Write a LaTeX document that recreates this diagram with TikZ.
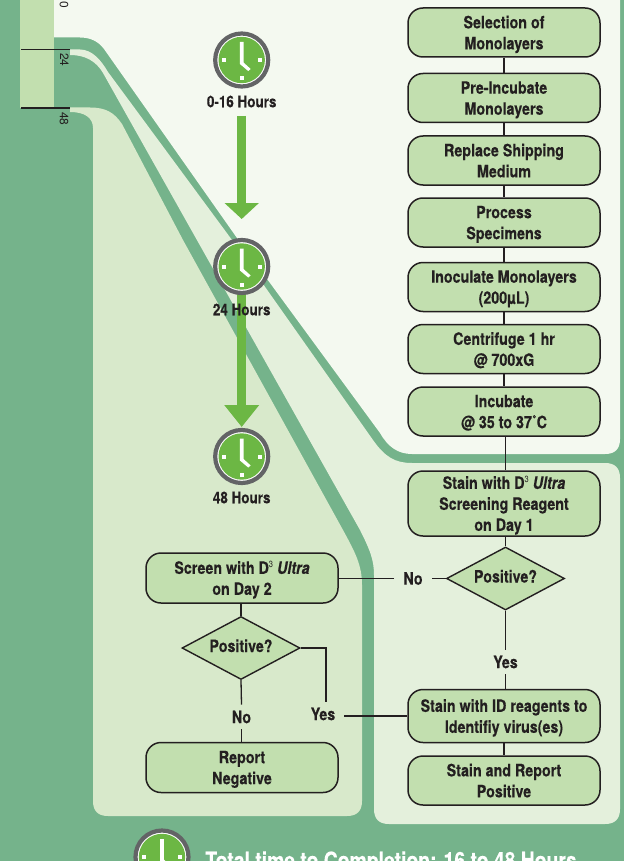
\documentclass[tikz,border=0pt]{standalone}
\usepackage{fontspec}
\setmainfont[FakeStretch=0.84,BoldFeatures={FakeBold=0.25},BoldItalicFeatures={FakeBold=0.25}]{TeX Gyre Heros}
\newfontfamily\tickfont{TeX Gyre Heros}
\usepackage{xcolor}
\usepackage{tikz}
\usetikzlibrary{arrows.meta,shapes.geometric,calc}
\definecolor{bandgreen}{HTML}{75B38B}
\definecolor{paleA}{HTML}{F4F9F0}
\definecolor{paleB}{HTML}{E4F0DC}
\definecolor{paleC}{HTML}{D8E9CB}
\definecolor{boxgreen}{HTML}{C2DFAF}
\definecolor{clockgreen}{HTML}{6CB744}
\definecolor{clockgray}{HTML}{636466}
\definecolor{inkdark}{HTML}{231F20}
\tikzset{
	flowbox/.style={draw=inkdark,fill=boxgreen,line width=1.5pt,rounded corners=15pt,minimum width=192pt,minimum height=49pt,inner sep=0pt,align=center,text depth=0pt,text=inkdark,font=\flowfont},
	flowdiamond/.style={diamond,draw=inkdark,fill=boxgreen,line width=1.4pt,minimum width=118pt,minimum height=63pt,inner sep=0pt,aspect=1.9,text height=12pt,text depth=4pt,text=inkdark,font=\flowfont},
	flowlabel/.style={inner xsep=9pt,inner ysep=6pt,text=inkdark,font=\flowfont},
	flowline/.style={draw=inkdark,line width=1.3pt},
	hourslabel/.style={inner sep=1pt,text=inkdark,font=\hoursfont},
	ticklabel/.style={rotate=-90,inner sep=0pt,text=inkdark,font=\tickfont\fontsize{12}{12}\selectfont},
	tickline/.style={draw=inkdark,line width=1.2pt},
	timearrow/.style={draw=clockgreen,line width=8.5pt,-{Triangle[width=33.5pt,length=#1]}},
}
\newcommand{\flowfont}{\bfseries\fontsize{17}{21}\selectfont}
\newcommand{\hoursfont}{\bfseries\fontsize{16}{16}\selectfont}
\newcommand{\smallthree}{\raisebox{6pt}{\mdseries\fontsize{9}{9}\selectfont 3}}
\newcommand{\plotClock}[1]
{
	\node[circle,draw=clockgray,fill=white,line width=4.2pt,minimum size=53pt,inner sep=0pt] (#1-ring) at (#1) {};
	\fill[clockgreen] (#1) circle (23.2pt);
	\fill[white] ($(#1)+(-1.8,-18)$) -- ($(#1)+(1.8,-18)$) -- ($(#1)+(1.8,2.5)$) -- ($(#1)+(9,9)$) -- ($(#1)+(6.5,11)$) -- ($(#1)+(-1.8,4)$) -- cycle;
	\fill[white] ($(#1)+(-20,-2)$) rectangle ($(#1)+(-16,2)$);
	\fill[white] ($(#1)+(16,-2)$) rectangle ($(#1)+(20,2)$);
	\fill[white] ($(#1)+(-2,16)$) rectangle ($(#1)+(2,20)$);
}
\begin{document}
\begin{tikzpicture}[x=1pt,y=-1pt]
\clip (0,0) rectangle (624,861);
\fill[bandgreen] (0,0) rectangle (624,861);

\fill[paleA] (54,-2) -- (54,37.5) -- (80,37.5) .. controls (90,37.5) and (98,41) .. (104,49) -- (237,238) -- (380,433) .. controls (388,447) and (398,454) .. (412,454) -- (605,454) .. controls (615,454) and (620,449) .. (620,439) -- (620,-2) -- cycle;
\fill[paleB] (70,49.5) -- (80,49.5) .. controls (92,49.5) and (101,60) .. (108,72) -- (232,240) -- (373,440) .. controls (385,457) and (395,463) .. (412,463) -- (605,463) .. controls (615,463) and (620,468) .. (620,478) -- (620,809) .. controls (620,819) and (615,824) .. (605,824) -- (389,824) .. controls (379,824) and (374,819) .. (374,809) -- (374,575) .. controls (374,560) and (370,550) .. (360,530) -- (103,73) .. controls (96,61) and (85,55) .. (70,55) -- cycle;
\fill[paleC] (70,107.5) -- (90,107.5) .. controls (105,107.5) and (114,112) .. (122,124) -- (183,240) -- (343,530) .. controls (355,552) and (362,565) .. (362,585) -- (362,801) .. controls (362,811) and (357,816) .. (347,816) -- (108,816) .. controls (98,816) and (93,811) .. (93,801) -- (93,128) .. controls (93,118) and (85,112) .. (70,112) -- cycle;
\fill[boxgreen] (20,-2) rectangle (54,108);

\draw[tickline] (21,49.5) -- (70,49.5);
\draw[tickline] (21,108) -- (70,108);
\node[ticklabel] (tickA) at (64,4.5) {0};
\node[ticklabel] (tickB) at (64.5,60) {24};
\node[ticklabel] (tickC) at (64,119) {48};

\coordinate (clockA) at (241.7,60);
\coordinate (clockB) at (241.7,266.5);
\coordinate (clockC) at (241.7,456.5);
\coordinate (clockD) at (162,857);

\draw[timearrow=16pt,shorten <=56pt,shorten >=47.5pt] (clockA) -- (clockB);
\draw[timearrow=22pt,shorten >=29.5pt] (clockB) -- (clockC);

\plotClock{clockA}
\plotClock{clockB}
\plotClock{clockC}
\plotClock{clockD}
\node[hourslabel] (hoursA) at (241.7,101.5) {0-16 Hours};
\node[hourslabel] (hoursB) at (241.7,309.5) {24 Hours};
\node[hourslabel] (hoursC) at (241.7,497.5) {48 Hours};

\node[flowbox] (select) at (504,32.5) {Selection of\\Monolayers};
\node[flowbox] (preinc) at (504,98) {Pre-Incubate\\Monolayers};
\node[flowbox] (replace) at (504,160.5) {Replace Shipping\\Medium};
\node[flowbox] (process) at (504,222.5) {Process\\Specimens};
\node[flowbox] (inoc) at (504,287) {Inoculate Monolayers\\(200µL)};
\node[flowbox] (spin) at (504,349) {Centrifuge 1 hr\\@ 700xG};
\node[flowbox] (incub) at (504,411.5) {Incubate\\@ 35 to 37˚C};
\node[flowbox,minimum height=65pt] (stainA) at (504,503.5) {Stain with D\smallthree{} \textit{Ultra}\\Screening Reagent\\on Day 1};
\node[flowdiamond] (posA) at (505.5,578.5) {Positive?};
\node[flowlabel] (yesA) at (505.5,662) {Yes};
\node[flowbox,minimum height=53pt] (stainB) at (504,716) {Stain with ID reagents to\\Identifiy virus(es)};
\node[flowbox] (stainC) at (504,780.5) {Stain and Report\\Positive};
\node[flowlabel] (noA) at (413,578.5) {No};

\node[flowbox,minimum height=50pt] (screen) at (242,578) {Screen with D\smallthree{} \textit{Ultra}\\on Day 2};
\node[flowdiamond] (posB) at (241,648) {Positive?};
\node[flowlabel] (noB) at (241.5,717) {No};
\node[flowlabel] (yesB) at (323,714) {Yes};
\node[flowbox,minimum height=50pt] (report) at (242,767.5) {Report\\Negative};

\draw[flowline] (select) -- (preinc);
\draw[flowline] (preinc) -- (replace);
\draw[flowline] (replace) -- (process);
\draw[flowline] (process) -- (inoc);
\draw[flowline] (inoc) -- (spin);
\draw[flowline] (spin) -- (incub);
\draw[flowline] (incub.south -| posA) -- (stainA.north -| posA);
\draw[flowline] (stainA.south -| posA) -- (posA.north);
\draw[flowline] (posA.south) -- (yesA.north);
\draw[flowline] (yesA.south) -- (stainB.north -| yesA);
\draw[flowline] (stainB) -- (stainC);
\draw[flowline] (posA.west) -- (noA.east);
\draw[flowline] (noA.west) -- (screen.east |- noA);
\draw[flowline] (screen.south -| posB) -- (posB.north);
\draw[flowline] (posB.south) -- (noB.north);
\draw[flowline] (noB.south) -- (report.north -| noB);
\draw[flowline] (posB.east) -| ([xshift=3pt]yesB.north);
\draw[flowline] (yesB.east |- stainB) -- (stainB.west);

\node[anchor=base,text=white,font=\bfseries\fontsize{23}{24}\selectfont] (total) at (391,868.5) {Total time to Completion: 16 to 48 Hours};
\end{tikzpicture}
\end{document}
